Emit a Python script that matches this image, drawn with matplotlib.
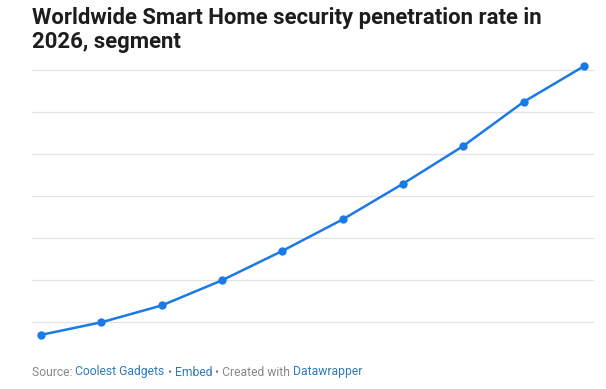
import matplotlib.pyplot as plt

plt.rcParams['font.family'] = ['Roboto', 'DejaVu Sans']

# data (approximate)
years = [2017, 2018, 2019, 2020, 2021, 2022, 2023, 2024, 2025, 2026]
rate = [1.4, 2.0, 2.8, 4.0, 5.4, 6.9, 8.6, 10.4, 12.5, 14.2]
grid_vals = [2, 4, 6, 8, 10, 12, 14]

W, H = 606, 389
fig = plt.figure(figsize=(W / 100, H / 100), dpi=100)

# axes placed in pixel terms
ax = fig.add_axes([32 / W, (H - 342) / H, (594 - 32) / W, 280 / H])
ax.set_xlim(years[0] - 0.15, years[-1] + 0.166)
ax.set_ylim(1.06, 14.40)

for g in grid_vals:
    ax.axhline(g, color='#e3e3e3', lw=0.9, zorder=1)

ax.plot(years, rate, color='#1a7ae6', lw=1.8, marker='o', ms=5,
        zorder=3, clip_on=False)

for s in ax.spines.values():
    s.set_visible(False)
ax.set_xticks([])
ax.set_yticks([])

# title
fig.text(32 / W, 1 - 7 / H,
         'Worldwide Smart Home security penetration rate in\n2026, segment',
         ha='left', va='top', fontsize=15.9, fontweight='bold',
         color='#1d1d1d', linespacing=1.12)

# footer with link-coloured parts
parts = [('Source: ', '#888888'), ('Coolest Gadgets', '#2f7ab8'),
         (' • ', '#888888'), ('Embed', '#2f7ab8'),
         (' • Created with ', '#888888'), ('Datawrapper', '#2f7ab8')]
fig.canvas.draw()
r = fig.canvas.get_renderer()
x = 32
for txt, col in parts:
    t = fig.text(x / W, 1 - 372 / H, txt, ha='left', va='center',
                 fontsize=8.75, color=col)
    bb = t.get_window_extent(renderer=r)
    x += bb.width

fig.savefig('out.png', dpi=100, facecolor='white')
